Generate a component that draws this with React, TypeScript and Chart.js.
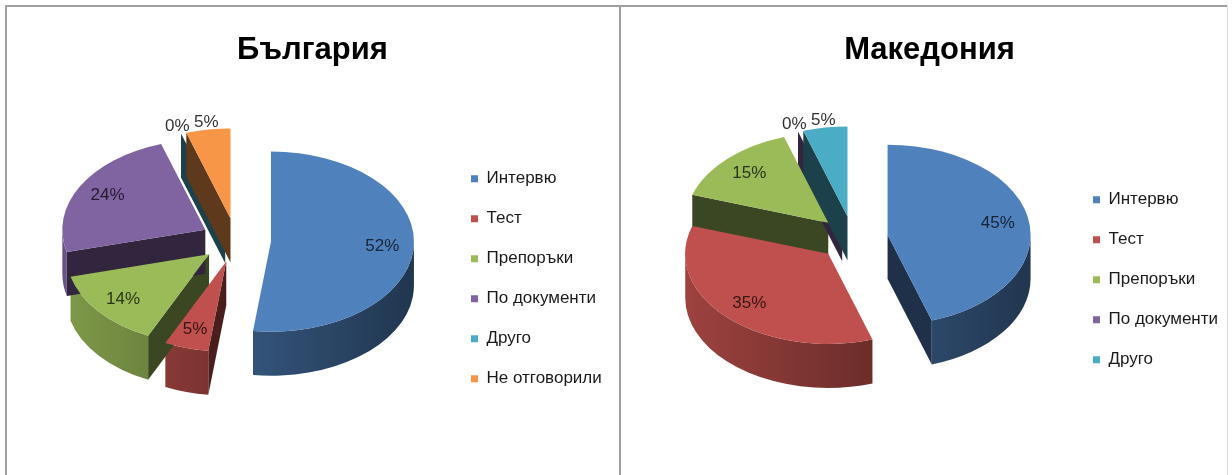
import React, { useEffect, useRef } from 'react';
import { Chart, registerables } from 'chart.js';

Chart.register(...registerables);

// ---- data ----
const titleBG = 'България';
const categoriesBG = ['Интервю', 'Тест', 'Препоръки', 'По документи', 'Друго', 'Не отговорили'];
const valuesBG = [52, 5, 14, 24, 0, 5];

const titleMK = 'Македония';
const categoriesMK = ['Интервю', 'Тест', 'Препоръки', 'По документи', 'Друго'];
const valuesMK = [45, 35, 15, 0, 5];

const sliceColors = ['#4F81BD', '#C0504D', '#9BBB59', '#8064A2', '#4BACC6', '#F79646'];

const FONT = "'Liberation Sans', Arial, sans-serif";

function shade(hex: string, f: number) {
  const n = parseInt(hex.slice(1), 16);
  const r = Math.round(((n >> 16) & 255) * f);
  const g = Math.round(((n >> 8) & 255) * f);
  const b = Math.round((n & 255) * f);
  return `rgb(${r},${g},${b})`;
}

const pie3d = {
  id: 'pie3d',
  beforeDatasetsDraw(chart: any, _args: any, opts: any) {
    const ctx = chart.ctx as CanvasRenderingContext2D;
    const meta = chart.getDatasetMeta(0);
    const values = chart.data.datasets[0].data;
    const k = opts.tilt;
    const D = opts.depth;
    const geo = meta.data.map((arc: any, i: number) => {
      const p = arc.getProps(['x', 'y', 'startAngle', 'endAngle', 'outerRadius'], true);
      const off = arc.options.offset || 0;
      const mid = (p.startAngle + p.endAngle) / 2;
      return {
        x0: p.x, y0: p.y, off, mid,
        cx: p.x + Math.cos(mid) * off,
        cy: p.y + Math.sin(mid) * off * k,
        r: p.outerRadius, s: p.startAngle, e: p.endAngle,
        color: arc.options.backgroundColor as string,
        value: values[i],
      };
    });
    ctx.save();
    const radial = (g: any, a: number) => {
      const px = g.cx + Math.cos(a) * g.r;
      const py = g.cy + Math.sin(a) * g.r * k;
      ctx.beginPath();
      ctx.moveTo(g.cx, g.cy);
      ctx.lineTo(px, py);
      ctx.lineTo(px, py + D);
      ctx.lineTo(g.cx, g.cy + D);
      ctx.closePath();
      ctx.fillStyle = shade(g.color, 0.38);
      ctx.fill();
    };
    for (const g of geo) {
      if (Math.cos(g.s) < -1e-6) radial(g, g.s);
      if (Math.cos(g.e) > 1e-6) radial(g, g.e);
      const a1 = Math.max(g.s, 0);
      const a2 = Math.min(g.e, Math.PI);
      if (a2 > a1) {
        ctx.beginPath();
        ctx.ellipse(g.cx, g.cy, g.r, g.r * k, 0, a1, a2);
        ctx.ellipse(g.cx, g.cy + D, g.r, g.r * k, 0, a2, a1, true);
        ctx.closePath();
        const grad = ctx.createLinearGradient(g.cx - g.r, 0, g.cx + g.r, 0);
        grad.addColorStop(0, shade(g.color, 0.82));
        grad.addColorStop(1, shade(g.color, 0.42));
        ctx.fillStyle = grad;
        ctx.fill();
      }
    }
    for (const g of geo) {
      if (g.e - g.s <= 0) continue;
      ctx.beginPath();
      ctx.moveTo(g.cx, g.cy);
      ctx.ellipse(g.cx, g.cy, g.r, g.r * k, 0, g.s, g.e);
      ctx.closePath();
      ctx.fillStyle = g.color;
      ctx.fill();
    }
    ctx.font = `17px ${FONT}`;
    ctx.textAlign = 'center';
    ctx.textBaseline = 'middle';
    for (const g of geo) {
      const outside = g.value <= 5 && Math.sin(g.mid) < 0;
      const d = outside ? g.off + g.r + 12 : g.off + g.r * 0.78;
      const lx = g.x0 + Math.cos(g.mid) * d;
      const ly = g.y0 + Math.sin(g.mid) * d * k;
      ctx.fillStyle = outside ? '#333333' : shade(g.color, 0.28);
      ctx.fillText(`${g.value}%`, lx, ly);
    }
    ctx.restore();
    return false;
  },
};

function makeConfig(title: string, labels: string[], values: number[], pad: any, legendShift: number): any {
  return {
    type: 'pie',
    data: {
      labels,
      datasets: [{
        data: values,
        backgroundColor: sliceColors.slice(0, values.length),
        borderWidth: 0,
        offset: 35,
        radius: 143,
      }],
    },
    options: {
      animation: false,
      responsive: false,
      layout: { padding: pad },
      plugins: {
        title: {
          display: true, text: title, color: '#000',
          font: { family: FONT, size: 31, weight: 'bold', lineHeight: 1 },
          padding: { top: 27.5, bottom: 0 },
        },
        legend: {
          position: 'right', fullSize: false, align: 'center', maxWidth: 153,
          title: { display: true, text: '', padding: { top: 0, bottom: legendShift } },
          labels: { boxWidth: 7, boxHeight: 7, padding: 23, color: '#1a1a1a', font: { family: FONT, size: 17 } },
        },
        tooltip: { enabled: false },
        pie3d: { tilt: 0.63, depth: 44 },
      },
    },
    plugins: [pie3d],
  };
}

function PieCanvas({ cfg, left, width }: { cfg: any; left: number; width: number }) {
  const ref = useRef<HTMLCanvasElement>(null);
  useEffect(() => {
    const chart = new Chart(ref.current as HTMLCanvasElement, cfg);
    return () => chart.destroy();
  }, []);
  return (
    <canvas ref={ref} width={width} height={468}
      style={{ position: 'absolute', left, top: 7, width, height: 468 }} />
  );
}

export default function App() {
  return (
    <div style={{ position: 'absolute', left: 0, top: 0, width: 1232, height: 475, background: '#fff', overflow: 'hidden' }}>
      <div style={{ position: 'absolute', left: 5, top: 5, width: 1223, height: 2, background: '#a0a0a0' }} />
      <div style={{ position: 'absolute', left: 5, top: 5, width: 2, height: 470, background: '#a0a0a0' }} />
      <div style={{ position: 'absolute', left: 619, top: 5, width: 2, height: 470, background: '#a0a0a0' }} />
      <div style={{ position: 'absolute', left: 1227, top: 5, width: 1, height: 470, background: '#dcdcdc' }} />
      <PieCanvas cfg={makeConfig(titleBG, categoriesBG, valuesBG, { left: 17, right: 18, top: 0, bottom: 60 }, 62.6)} left={7} width={612} />
      <PieCanvas cfg={makeConfig(titleMK, categoriesMK, valuesMK, { left: 15, right: 4, top: 0, bottom: 64 }, 68.6)} left={621} width={606} />
    </div>
  );
}
